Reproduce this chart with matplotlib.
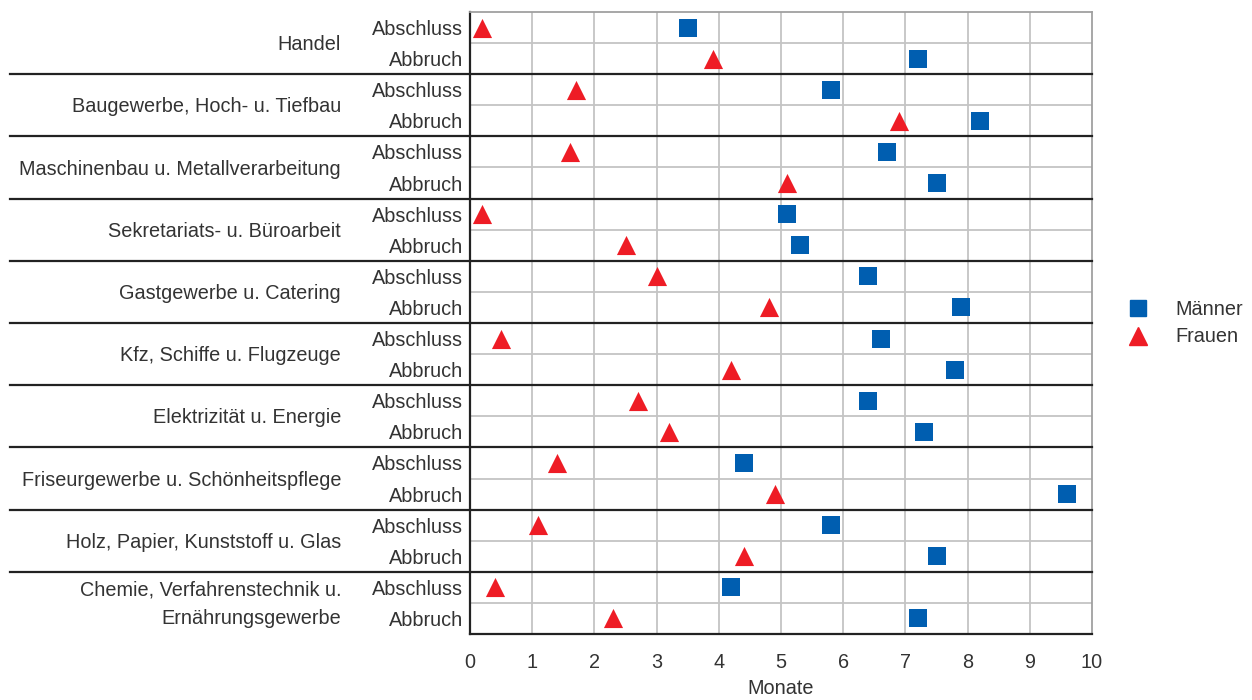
import matplotlib
matplotlib.use("Agg")
import matplotlib.pyplot as plt
from matplotlib.lines import Line2D

plt.rcParams['font.family'] = ['Liberation Sans', 'DejaVu Sans']

categories = ["Handel", "Baugewerbe, Hoch- u. Tiefbau", "Maschinenbau u. Metallverarbeitung",
              "Sekretariats- u. Büroarbeit", "Gastgewerbe u. Catering", "Kfz, Schiffe u. Flugzeuge",
              "Elektrizität u. Energie", "Friseurgewerbe u. Schönheitspflege",
              "Holz, Papier, Kunststoff u. Glas", "Chemie, Verfahrenstechnik u.\nErnährungsgewerbe"]
sub_labels = ["Abschluss", "Abbruch"]

maenner_abschluss = [3.5, 5.8, 6.7, 5.1, 6.4, 6.6, 6.4, 4.4, 5.8, 4.2]
maenner_abbruch   = [7.2, 8.2, 7.5, 5.3, 7.9, 7.8, 7.3, 9.6, 7.5, 7.2]
frauen_abschluss  = [0.2, 1.7, 1.6, 0.2, 3.0, 0.5, 2.7, 1.4, 1.1, 0.4]
frauen_abbruch    = [3.9, 6.9, 5.1, 2.5, 4.8, 4.2, 3.2, 4.9, 4.4, 2.3]

x_ticks = list(range(0, 11))
x_label = "Monate"
series_names = ["Männer", "Frauen"]

blue = "#005eb0"
red = "#ee1c25"
txt = "#333333"
fs = 14.3

fig = plt.figure(figsize=(12.52, 7.0), dpi=100)
ax = fig.add_axes([470/1252, 1-634/700, 622/1252, 622/700])

n = len(categories)
y_abs = [2*i for i in range(n)]
y_abb = [2*i+1 for i in range(n)]

ax.scatter(maenner_abschluss, y_abs, marker='s', s=150, color=blue, zorder=5, linewidths=0)
ax.scatter(maenner_abbruch, y_abb, marker='s', s=150, color=blue, zorder=5, linewidths=0)
ax.scatter(frauen_abschluss, y_abs, marker='^', s=190, color=red, zorder=5, linewidths=0)
ax.scatter(frauen_abbruch, y_abb, marker='^', s=190, color=red, zorder=5, linewidths=0)

ax.set_xlim(0, 10)
ax.set_ylim(2*n - 0.5, -0.5)
ax.set_xticks(x_ticks)
ax.set_xticklabels([str(t) for t in x_ticks], fontsize=fs, color=txt)
ax.set_yticks(y_abs + y_abb)
ax.set_yticklabels([sub_labels[0]]*n + [sub_labels[1]]*n, fontsize=fs, color=txt)
ax.tick_params(axis='both', length=0)
ax.tick_params(axis='x', pad=14)
ax.tick_params(axis='y', pad=5)
ax.set_xlabel(x_label, fontsize=fs, color=txt, labelpad=5)

# grid
for x in x_ticks[1:-1]:
    ax.axvline(x, color='#c4c4c4', lw=1.3, zorder=1)
for k in range(2*n - 1):
    yb = k + 0.5
    if k % 2 == 0:
        ax.axhline(yb, color='#c4c4c4', lw=1.3, zorder=1)

# group separators
trans = ax.get_yaxis_transform()
for i in range(1, n):
    ax.plot([(10-470)/622, 1], [2*i - 0.5]*2, transform=trans, color='#222222', lw=1.6,
            clip_on=False, zorder=3)

for side in ['top', 'right']:
    ax.spines[side].set_color('#a0a0a0')
    ax.spines[side].set_linewidth(1.3)
for side in ['left', 'bottom']:
    ax.spines[side].set_color('#222222')
    ax.spines[side].set_linewidth(1.6)

# category labels
for i, c in enumerate(categories):
    ax.text((341-470)/622, 2*i + 0.55, c, transform=trans, ha='right', va='center',
            fontsize=fs, color=txt, linespacing=1.6)

handles = [Line2D([], [], marker='s', color=blue, ls='none', markersize=12),
           Line2D([], [], marker='^', color=red, ls='none', markersize=13)]
fig.legend(handles, series_names, loc='center left', bbox_to_anchor=(1100/1252, 1-323/700),
           frameon=False, fontsize=fs, labelcolor=txt, handletextpad=0.9, labelspacing=0.45)

fig.savefig("out.png", dpi=100)
